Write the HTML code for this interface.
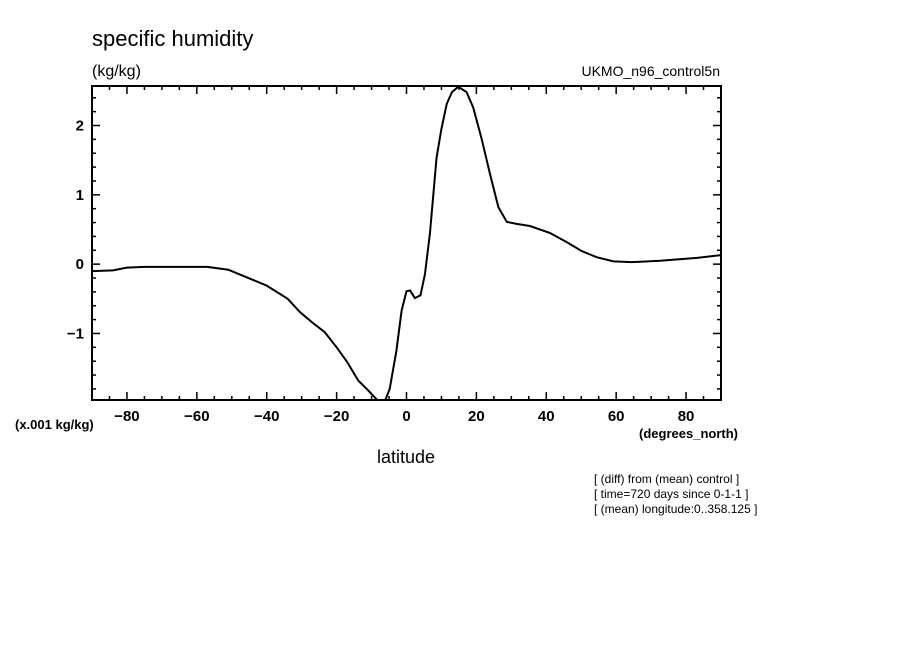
<!DOCTYPE html>
<html><head><meta charset="utf-8"><style>
body{margin:0;background:#fff;}
svg text{font-family:"Liberation Sans",sans-serif;fill:#000;}
</style></head><body>
<svg id="chart" width="904" height="654" viewBox="0 0 904 654" xmlns="http://www.w3.org/2000/svg">
<defs><clipPath id="plotclip"><rect x="92" y="86" width="629" height="314"/></clipPath></defs>
<text x="92" y="46" font-size="22">specific humidity</text>
<text x="92" y="76" font-size="16">(kg/kg)</text>
<text x="720" y="76" font-size="14" text-anchor="end">UKMO_n96_control5n</text>
<text x="15" y="429" font-size="13" font-weight="bold">(x.001 kg/kg)</text>
<text x="738" y="438" font-size="13" font-weight="bold" text-anchor="end">(degrees_north)</text>
<text x="406" y="463" font-size="18" text-anchor="middle">latitude</text>
<text x="594" y="483" font-size="12">[ (diff) from (mean) control ]</text>
<text x="594" y="498" font-size="12">[ time=720 days since 0-1-1 ]</text>
<text x="594" y="513" font-size="12">[ (mean) longitude:0..358.125 ]</text>
<g id="axes"></g>
<path id="series" fill="none" stroke="#000" stroke-width="2" clip-path="url(#plotclip)"/>
<rect x="92" y="86" width="629" height="314" fill="none" stroke="#000" stroke-width="2"/>
</svg>
<script>
const lats=[-90,-84,-80,-75,-57,-51,-40,-34,-30.5,-27,-23.4,-20,-17,-13.8,-11,-8,-6.2,-4.8,-2.9,-1.4,0,1,2.4,4,5.3,6.7,8.6,10,11.5,13,14.8,17.2,19.1,21.5,23.9,26.3,28.7,31.5,35.3,41,45.8,50.1,54.4,59.2,64.5,72.6,83.1,90];
const values=[-0.10,-0.09,-0.05,-0.04,-0.04,-0.08,-0.31,-0.5,-0.69,-0.84,-0.98,-1.20,-1.41,-1.68,-1.82,-1.98,-1.98,-1.8,-1.25,-0.67,-0.39,-0.38,-0.49,-0.45,-0.14,0.44,1.54,1.95,2.31,2.48,2.56,2.48,2.26,1.81,1.30,0.82,0.61,0.58,0.55,0.45,0.32,0.19,0.10,0.04,0.03,0.05,0.09,0.13];
const xTicks=[-80,-60,-40,-20,0,20,40,60,80];
const xTickLabels=["\u221280","\u221260","\u221240","\u221220","0","20","40","60","80"];
const yTicks=[-1,0,1,2];
const yTickLabels=["\u22121","0","1","2"];
const X0=92,X1=721,Y0=400,Y1=86,xmin=-90,xmax=90,ymin=-1.96,ymax=2.57;
const sx=v=>X0+(v-xmin)/(xmax-xmin)*(X1-X0);
const sy=v=>Y0-(v-ymin)/(ymax-ymin)*(Y0-Y1);
const NS="http://www.w3.org/2000/svg";
const g=document.getElementById('axes');
function ln(x1,y1,x2,y2,name){const l=document.createElementNS(NS,'line');l.setAttribute('x1',x1);l.setAttribute('y1',y1);l.setAttribute('x2',x2);l.setAttribute('y2',y2);l.setAttribute('stroke','#000');l.setAttribute('stroke-width','1.5');


g.appendChild(l);}
for(let v=-90;v<=90;v+=5){const x=sx(v);const major=(v%20===0);const len=major?8:4;ln(x,Y0,x,Y0-len,'x-tick');ln(x,Y1,x,Y1+len,'x-tick-top');}
for(let v=-1.8;v<=2.51;v+=0.2){const r=Math.round(v*10)/10;const major=Math.abs(r-Math.round(r))<1e-6;const len=major?8:4;const y=sy(r);ln(X0,y,X0+len,y,'y-tick');ln(X1,y,X1-len,y,'y-tick-right');}
xTicks.forEach((v,i)=>{const t=document.createElementNS(NS,'text');t.setAttribute('x',sx(v));t.setAttribute('y',421);t.setAttribute('font-size','15');t.setAttribute('font-weight','bold');t.setAttribute('text-anchor','middle');t.textContent=xTickLabels[i];


g.appendChild(t);});
yTicks.forEach((v,i)=>{const t=document.createElementNS(NS,'text');t.setAttribute('x',84);t.setAttribute('y',sy(v)+5);t.setAttribute('font-size','15');t.setAttribute('font-weight','bold');t.setAttribute('text-anchor','end');t.textContent=yTickLabels[i];


g.appendChild(t);});
document.getElementById('series').setAttribute('d',lats.map((v,i)=>(i?'L':'M')+sx(v).toFixed(1)+' '+sy(values[i]).toFixed(1)).join(' '));
</script>
</body></html>
